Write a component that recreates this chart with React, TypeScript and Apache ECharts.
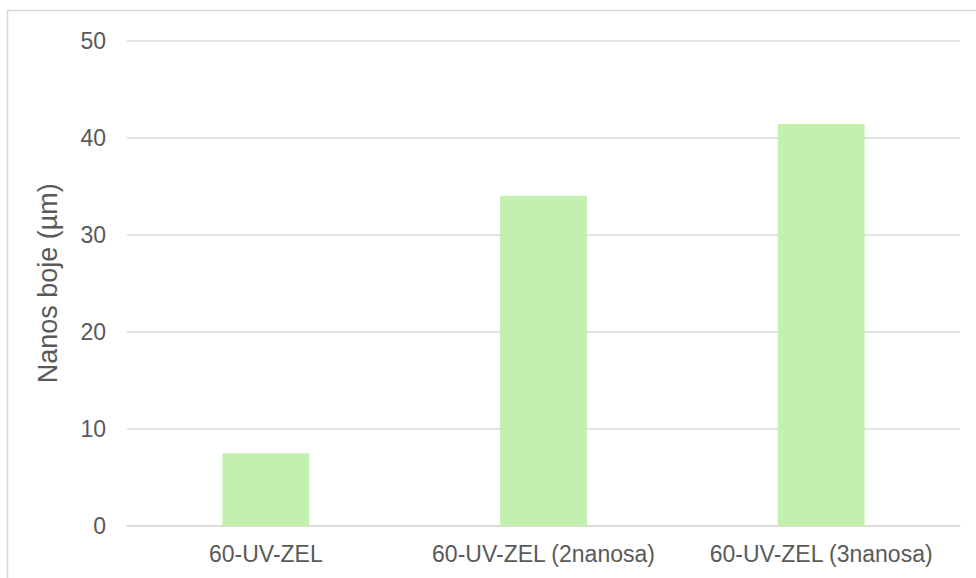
import React, { useEffect, useRef } from "react";
import * as echarts from "echarts";

const categories = ["60-UV-ZEL", "60-UV-ZEL (2nanosa)", "60-UV-ZEL (3nanosa)"];
const values = [7.5, 34.0, 41.4];
const yTitle = "Nanos boje (µm)";

export default function App() {
  const ref = useRef<HTMLDivElement>(null);
  useEffect(() => {
    if (!ref.current) return;
    const chart = echarts.init(ref.current, undefined, { renderer: "svg" });
    const font = "'Liberation Sans', Arial, sans-serif";
    chart.setOption({
      animation: false,
      backgroundColor: "#ffffff",
      grid: { left: 127, right: 16, top: 40.5, bottom: 52, containLabel: false },
      graphic: [
        {
          type: "rect",
          shape: { x: 7.5, y: 10.5, width: 1000, height: 620 },
          style: { fill: "none", stroke: "#d9d9d9", lineWidth: 1.5 },
          silent: true,
        },
      ],
      xAxis: {
        type: "category",
        data: categories,
        axisLine: { show: true, lineStyle: { color: "#d9d9d9", width: 1.5 } },
        axisTick: { show: false },
        axisLabel: { color: "#595959", fontSize: 23, fontFamily: font, margin: 16, interval: 0 },
      },
      yAxis: {
        type: "value",
        min: 0,
        max: 50,
        interval: 10,
        name: yTitle,
        nameLocation: "middle",
        nameGap: 66,
        nameTextStyle: { color: "#595959", fontSize: 27, fontFamily: font },
        axisLine: { show: false },
        axisTick: { show: false },
        axisLabel: { color: "#595959", fontSize: 23, fontFamily: font, margin: 21 },
        splitLine: { lineStyle: { color: "#d9d9d9", width: 1.5 } },
      },
      series: [
        {
          type: "bar",
          data: values,
          barWidth: "31.3%",
          itemStyle: { color: "#c3f0ae" },
        },
      ],
    });
    return () => chart.dispose();
  }, []);
  return (
    <div
      ref={ref}
      style={{ position: "absolute", left: 0, top: 0, width: 976, height: 578 }}
    />
  );
}
